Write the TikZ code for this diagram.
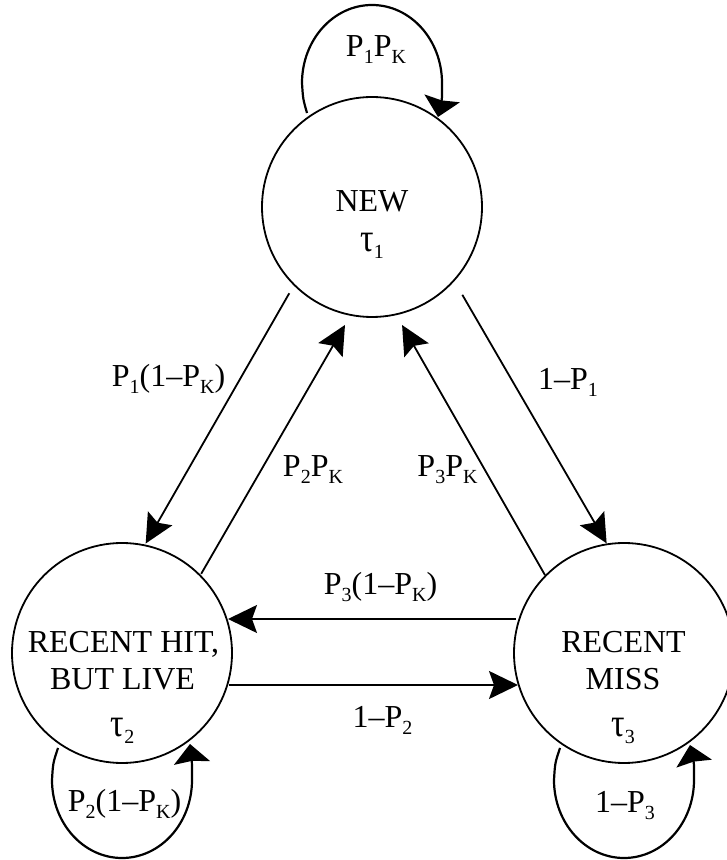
\documentclass[tikz,border=0pt]{standalone}
\usepackage{fontspec}
\setmainfont{Liberation Serif}
\usetikzlibrary{arrows.meta,calc}
\newcommand\sbs[1]{\raisebox{-7pt}{\fontsize{20}{20}\selectfont #1}}
\newcommand\tauch{\scalebox{1.05}[1.25]{τ}}
\begin{document}
\begin{tikzpicture}[x=1pt,y=1pt,
  state/.style={circle,draw,line width=1.8pt,minimum size=220pt,inner sep=0pt,outer sep=0pt},
  txt/.style={anchor=base,inner sep=0pt,font=\fontsize{32}{37}\selectfont},
  edge/.style={line width=1.8pt,-{Stealth[length=29pt,width=28pt,inset=5pt]}},
  selfloop/.style={line width=2.2pt,-{Stealth[length=19pt,width=36pt,inset=2pt]}}]
\useasboundingbox (0,0) rectangle (727,860);
\node[state] (new) at (372,653) {};
\node[state] (hit) at (122,207) {};
\node[state] (miss) at (624,207) {};
% state texts
\node[txt] (newA) at (372,648) {NEW};
\node[txt] (newB) at (372,608) {\tauch\sbs{1}};
\node[txt] (hitA) at (123.5,207) {RECENT HIT,};
\node[txt] (hitB) at (122.5,170) {BUT LIVE};
\node[txt] (hitC) at (122.5,123) {\tauch\sbs{2}};
\node[txt] (missA) at (623.5,207) {RECENT};
\node[txt] (missB) at (623,170) {MISS};
\node[txt] (missC) at (623,123) {\tauch\sbs{3}};
% straight transitions
\draw[edge] ($(new)+(226.2:119.5)$) -- ($(hit)+(77.8:112)$);
\draw[edge] ($(hit)+(45:112)$) -- ($(new)+(257.1:121)$);
\draw[edge] ($(miss)+(135.4:111)$) -- ($(new)+(284.3:121.8)$);
\draw[edge] ($(new)+(315.8:126)$) -- ($(miss)+(99:111)$);
\draw[edge] ($(miss)+(-108,34)$) -- ($(hit)+(106,34)$);
\draw[edge] ($(hit)+(107,-32)$) -- ($(miss)+(-106,-32)$);
% self loops
\draw[selfloop] ($(new)+(-65,94)$) .. controls ($(new)+(-69,108)$) .. ($(new)+(-70,124)$)
  arc[start angle=180,end angle=0,x radius=70,y radius=78]
  .. controls ($(new)+(70,108)$) .. ($(new)+(66,90)$);
\draw[selfloop] ($(hit)+(-64,-95)$) .. controls ($(hit)+(-69,-110)$) .. ($(hit)+(-70,-127)$)
  arc[start angle=180,end angle=360,x radius=70,y radius=78]
  .. controls ($(hit)+(70,-110)$) .. ($(hit)+(68,-91)$);
\draw[selfloop] ($(miss)+(-64,-95)$) .. controls ($(miss)+(-69,-110)$) .. ($(miss)+(-70,-127)$)
  arc[start angle=180,end angle=360,x radius=70,y radius=78]
  .. controls ($(miss)+(70,-110)$) .. ($(miss)+(66,-92)$);
% labels
\node[txt] (l1) at (376,803) {P\sbs{1}P\sbs{K}};
\node[txt] (l2) at (168.5,473) {P\sbs{1}(1–P\sbs{K})};
\node[txt] (l3) at (568,470) {1–P\sbs{1}};
\node[txt] (l4) at (313,383) {P\sbs{2}P\sbs{K}};
\node[txt] (l5) at (447.5,383) {P\sbs{3}P\sbs{K}};
\node[txt] (l6) at (380.5,265) {P\sbs{3}(1–P\sbs{K})};
\node[txt] (l7) at (382.5,132) {1–P\sbs{2}};
\node[txt] (l8) at (124.5,48) {P\sbs{2}(1–P\sbs{K})};
\node[txt] (l9) at (625,47) {1–P\sbs{3}};
\end{tikzpicture}
\end{document}
